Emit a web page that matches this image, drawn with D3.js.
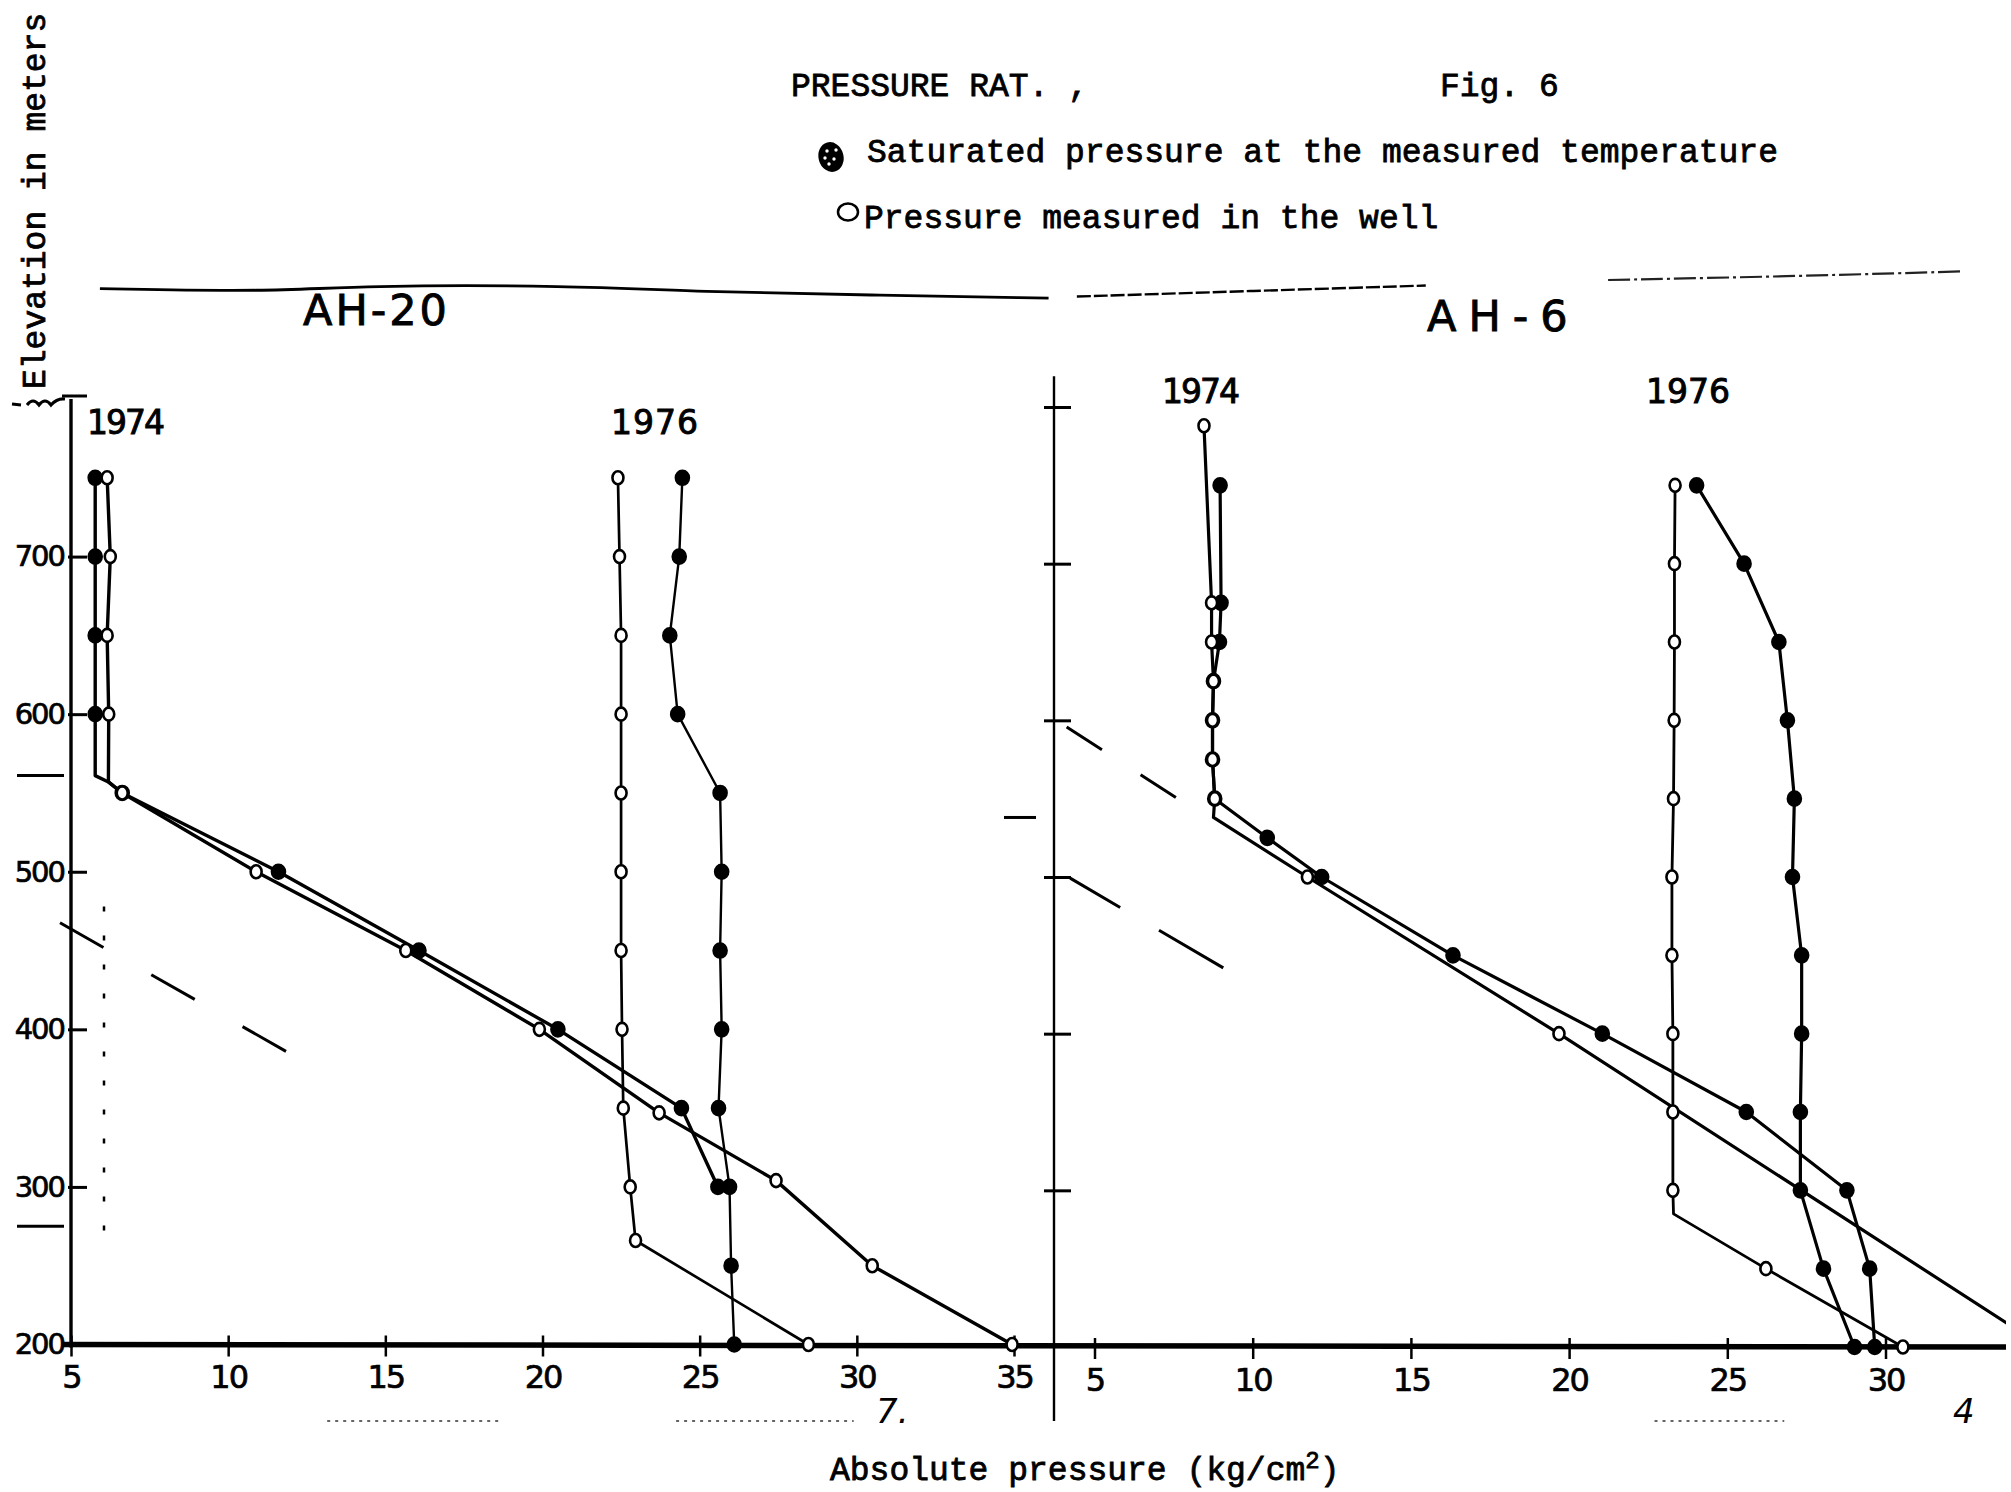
<!DOCTYPE html>
<html>
<head>
<meta charset="utf-8">
<script src="https://cdn.jsdelivr.net/npm/d3@7"></script>
<style>
  body { margin: 0; background: #fff; }
  svg { display: block; }
</style>
</head>
<body>
<script>
var w = 2011;
var h = 1492;

// values: [pressure kg/cm2, elevation m]
// AH-20
var ah20_74_sat  = [[5.77,750],[5.77,700],[5.77,650],[5.77,600],[5.77,561],[6.19,557],[6.63,550],[11.6,500],[16.07,450],[20.49,400],[24.42,350],[25.58,300]];
var ah20_74_meas = [[6.15,750],[6.25,700],[6.15,650],[6.2,600],[6.19,557],[6.63,550],[10.89,500],[15.65,450],[19.9,400],[23.71,347],[27.43,304],[30.49,250],[34.94,200]];
var ah20_76_sat  = [[24.45,750],[24.35,700],[24.05,650],[24.3,600],[25.65,550],[25.7,500],[25.65,450],[25.7,400],[25.6,350],[25.95,300],[26.0,250],[26.1,200]];
var ah20_76_meas = [[22.4,750],[22.45,700],[22.5,650],[22.5,600],[22.5,550],[22.5,500],[22.5,450],[22.53,400],[22.57,350],[22.79,300],[22.96,266],[28.46,200]];
// AH-6
var ah6_74_sat  = [[8.97,750],[9.0,675],[8.95,650],[8.76,625],[8.73,600],[8.73,575],[8.8,550],[10.46,525],[12.18,500],[16.33,450],[21.05,400],[25.6,350],[28.78,300],[29.5,250],[29.66,200]];
var ah6_74_meas = [[8.46,788],[8.7,675],[8.7,650],[8.76,625],[8.73,600],[8.73,575],[8.8,550],[8.76,538],[11.73,500],[19.68,400],[35.0,200]];
var ah6_76_sat  = [[24.03,750],[25.53,700],[26.63,650],[26.9,600],[27.12,550],[27.06,500],[27.35,450],[27.35,400],[27.31,350],[27.31,300],[28.04,250],[29.02,200]];
var ah6_76_meas = [[23.35,750],[23.33,700],[23.33,650],[23.32,600],[23.3,550],[23.25,500],[23.25,450],[23.28,400],[23.28,350],[23.28,300],[23.3,285],[26.22,250],[30.55,200]];

// elevations where a line only bends (no point plotted)
var ah20_74_sat_bends = [561, 557];
var ah20_74_meas_bends = [557];
var ah6_74_meas_bends = [538, 200];
var ah6_76_meas_bends = [285];

// ticks
var elevTicksL = [300, 400, 500, 600, 700];
var elevTicksR = [300, 400, 500, 600, 700, 800];
var pressTicksL = [5, 10, 15, 20, 25, 30, 35];
var pressTicksR = [5, 10, 15, 20, 25, 30];

// pencil marks on the sheet
var casingL = [561, 275];
var casingR = [538];
var guideL  = [[4.65,467.6],[11.95,384.8]];
var guideV  = [[6.05,478],[6.05,268]];
var guideRA = [[4.12,595.8],[7.83,547.4]];
var guideRB = [[4.23,499.3],[9.07,442]];
var rule1 = [[5.92,870],[11.3,868],[14.2,872],[20.9,872],[25.0,868],[30.4,866],[36.1,864]];
var rule2 = [[37.0,865],[42.5,868.5],[48.1,872]];
var rule3 = [[53.9,875.5],[60.0,878],[65.2,881]];
var foot1 = [[13.15,151.5],[18.6,151.5]];
var foot2 = [[24.25,151.5],[29.9,151.5]];
var foot3 = [[22.7,152.8],[26.8,152.8]];

var svg = d3.select("body")
            .append("svg")
              .attr("width", w)
              .attr("height", h);

svg.append("defs").append("clipPath").attr("id", "page")
  .append("rect").attr("x", 0).attr("y", 0).attr("width", 2006).attr("height", h);

var root = svg.append("g").attr("clip-path", "url(#page)");

//scales, one pair per panel
var xL = d3.scaleLinear().domain([5, 35]).range([71, 1014]);
var yL = d3.scaleLinear().domain([200, 800]).range([1344.5, 399]);
var xR = d3.scaleLinear().domain([5, 30]).range([1094.5, 1885.5]);
var yR = d3.scaleLinear().domain([200, 800]).range([1347, 407]);
var axR = 1054;

var mono = "'Liberation Mono', 'DejaVu Sans Mono', monospace";
var sans = "'DejaVu Sans', 'Liberation Sans', sans-serif";

function lineFor(x, y, curve) {
  var l = d3.line().x(function(d) { return x(d[0]); }).y(function(d) { return y(d[1]); });
  if (curve) l.curve(curve);
  return l;
}

// header text
function typed(txt, x, y) {
  return root.append("text").attr("x", x).attr("y", y)
    .style("font-family", mono).style("font-size", "33px")
    .attr("fill", "#000").attr("stroke", "#000").attr("stroke-width", 0.8)
    .text(txt);
}
typed("PRESSURE RAT. ,", 791, 96);
typed("Fig. 6", 1440, 96);
typed("Saturated pressure at the measured temperature", 867, 162);
typed("Pressure measured in the well", 864, 228);

// legend symbols
root.append("ellipse").attr("cx", 831).attr("cy", 157).attr("rx", 12.5).attr("ry", 15)
  .attr("transform", "rotate(-15,831,157)").attr("fill", "#000");
[[827,151],[834,159],[829,164],[836,150],[825,158]].forEach(function(p) {
  root.append("circle").attr("cx", p[0]).attr("cy", p[1]).attr("r", 1.7).attr("fill", "#fff");
});
root.append("ellipse").attr("cx", 848).attr("cy", 212).attr("rx", 10).attr("ry", 8.5)
  .attr("fill", "none").attr("stroke", "#000").attr("stroke-width", 2.5);

// y title
root.append("text")
  .attr("transform", "translate(45,389) rotate(-90)")
  .style("font-family", mono).style("font-size", "33px")
  .attr("fill", "#000").attr("stroke", "#000").attr("stroke-width", 0.8)
  .text("Elevation in meters");

// x title
var xt = root.append("text").attr("x", 830).attr("y", 1480)
  .style("font-family", mono).style("font-size", "33px")
  .attr("fill", "#000").attr("stroke", "#000").attr("stroke-width", 0.8);
xt.append("tspan").text("Absolute pressure (kg/cm");
xt.append("tspan").attr("dy", -12).style("font-size", "24px").text("2");
xt.append("tspan").attr("dy", 12).text(")");

// wavy rule under the header
var ruleLine = lineFor(xL, yL, d3.curveBasis);
root.append("path").attr("d", ruleLine(rule1)).attr("fill", "none").attr("stroke", "#000").attr("stroke-width", 2.8);
root.append("path").attr("d", ruleLine(rule2)).attr("fill", "none").attr("stroke", "#000").attr("stroke-width", 2.4).attr("stroke-dasharray", "14,3");
root.append("path").attr("d", ruleLine(rule3)).attr("fill", "none").attr("stroke", "#222").attr("stroke-width", 2.2).attr("stroke-dasharray", "22,4,3,4");

// well names and years
function lettered(txt, x, y, size, spacing) {
  return root.append("text").attr("x", x).attr("y", y)
    .style("font-family", sans).style("font-size", size + "px")
    .style("letter-spacing", spacing + "px")
    .attr("fill", "#000").attr("stroke", "#000").attr("stroke-width", 0.9)
    .text(txt);
}
lettered("AH-20", 303, 325, 43, 3);
lettered("AH-6", 1427, 331, 43, 12);
lettered("1974", 87, 434, 33, -2);
lettered("1976", 611, 434, 33, 1);
lettered("1974", 1162, 403, 33, -2);
lettered("1976", 1646, 403, 33, 0);

// page marks
root.append("text").attr("x", 876).attr("y", 1423).style("font-family", sans)
  .style("font-size", "34px").style("font-style", "italic").style("font-weight", "200").text("7.");
root.append("text").attr("x", 1953).attr("y", 1423).style("font-family", sans)
  .style("font-size", "34px").style("font-style", "italic").style("font-weight", "200").text("4");

// axes lines
root.append("line").attr("x1", xL(5)).attr("x2", xL(5)).attr("y1", yL(800)).attr("y2", yL(200) + 3)
  .attr("stroke", "#000").attr("stroke-width", 3.4);
root.append("line").attr("x1", xL(5) - 9).attr("x2", xL(5) + 16).attr("y1", yL(800) - 3).attr("y2", yL(800) - 3)
  .attr("stroke", "#000").attr("stroke-width", 3);
var ty = yL(800);
root.append("path")
  .attr("d", "M12," + (ty + 5) + " l9,1 M27," + (ty + 6) + " q6,-8 12,0 q6,-8 12,0 q6,-7 14,-6")
  .attr("fill", "none").attr("stroke", "#000").attr("stroke-width", 3);

root.append("line").attr("x1", axR).attr("x2", axR).attr("y1", yR(819.7)).attr("y2", yR(152.8))
  .attr("stroke", "#000").attr("stroke-width", 2.4);

root.append("line").attr("x1", xL(4.7)).attr("y1", yL(200)).attr("x2", w).attr("y2", yR(200))
  .attr("stroke", "#000").attr("stroke-width", 5.5);

// axes ticks and labels
function styleAxis(g, size, spacing) {
  g.select(".domain").remove();
  g.selectAll("line").attr("stroke", "#000").attr("stroke-width", 3);
  g.selectAll("text").style("font-family", sans).style("font-size", size + "px")
    .style("letter-spacing", spacing + "px")
    .attr("fill", "#000").attr("stroke", "#000").attr("stroke-width", 0.7);
}

root.append("g").attr("transform", "translate(" + xL(5) + ",0)")
  .call(d3.axisLeft(yL).tickValues(elevTicksL).tickSizeInner(-16).tickSizeOuter(0).tickPadding(7))
  .call(function(g) { styleAxis(g, 29, -2); g.selectAll("line").attr("x1", -3); });

root.append("text").attr("x", xL(5) - 7).attr("y", yL(200)).attr("dy", "0.32em")
  .attr("text-anchor", "end").style("font-family", sans).style("font-size", "29px")
  .style("letter-spacing", "-2px").attr("stroke", "#000").attr("stroke-width", 0.7).text("200");

root.append("g").attr("transform", "translate(" + axR + ",0)")
  .call(d3.axisLeft(yR).tickValues(elevTicksR).tickSizeInner(-17).tickSizeOuter(0).tickFormat(""))
  .call(function(g) { styleAxis(g, 29, 0); g.selectAll("line").attr("x1", -10); });

root.append("g").attr("transform", "translate(0," + yL(200) + ")")
  .call(d3.axisBottom(xL).tickValues(pressTicksL).tickSizeInner(12).tickSizeOuter(0).tickPadding(9))
  .call(function(g) { styleAxis(g, 32, -2); g.selectAll("line").attr("y1", -9).attr("stroke-width", 2.5); });

root.append("g").attr("transform", "translate(0," + yR(200) + ")")
  .call(d3.axisBottom(xR).tickValues(pressTicksR).tickSizeInner(12).tickSizeOuter(0).tickPadding(9))
  .call(function(g) { styleAxis(g, 32, -2); g.selectAll("line").attr("y1", -9).attr("stroke-width", 2.5); });

// casing marks beside the axes
root.selectAll(".casingL").data(casingL).enter().append("line")
  .attr("x1", xL(5) - 54).attr("x2", xL(5) - 7)
  .attr("y1", function(d) { return yL(d); }).attr("y2", function(d) { return yL(d); })
  .attr("stroke", "#000").attr("stroke-width", 3);
root.selectAll(".casingR").data(casingR).enter().append("line")
  .attr("x1", axR - 50).attr("x2", axR - 18)
  .attr("y1", function(d) { return yR(d); }).attr("y2", function(d) { return yR(d); })
  .attr("stroke", "#000").attr("stroke-width", 3);

// pencil guides
var lineL = lineFor(xL, yL);
var lineR = lineFor(xR, yR);
root.append("path").attr("d", lineL(guideL)).attr("stroke", "#000").attr("stroke-width", 3).attr("stroke-dasharray", "50,55");
root.append("path").attr("d", lineL(guideV)).attr("stroke", "#000").attr("stroke-width", 2.5).attr("stroke-dasharray", "5,24");
root.append("path").attr("d", lineR(guideRA)).attr("stroke", "#000").attr("stroke-width", 3).attr("stroke-dasharray", "42,46");
root.append("path").attr("d", lineR(guideRB)).attr("stroke", "#000").attr("stroke-width", 3).attr("stroke-dasharray", "58,45,75");
[foot1, foot2].forEach(function(f) {
  root.append("path").attr("d", lineL(f)).attr("stroke", "#333").attr("stroke-width", 1.6).attr("stroke-dasharray", "3,5");
});
root.append("path").attr("d", lineR(foot3)).attr("stroke", "#333").attr("stroke-width", 1.6).attr("stroke-dasharray", "3,5");

// series
var series = [
  { pts: ah20_74_sat,  bends: ah20_74_sat_bends,  filled: true,  width: 3.4, x: xL, y: yL },
  { pts: ah20_74_meas, bends: ah20_74_meas_bends, filled: false, width: 3.4, x: xL, y: yL },
  { pts: ah20_76_sat,  bends: [],                 filled: true,  width: 2.4, x: xL, y: yL },
  { pts: ah20_76_meas, bends: [],                 filled: false, width: 2.7, x: xL, y: yL },
  { pts: ah6_74_sat,   bends: [],                 filled: true,  width: 3.2, x: xR, y: yR },
  { pts: ah6_74_meas,  bends: ah6_74_meas_bends,  filled: false, width: 3.2, x: xR, y: yR },
  { pts: ah6_76_sat,   bends: [],                 filled: true,  width: 3.2, x: xR, y: yR },
  { pts: ah6_76_meas,  bends: ah6_76_meas_bends,  filled: false, width: 2.8, x: xR, y: yR }
];

series.forEach(function(s) {
  root.append("path")
    .attr("d", lineFor(s.x, s.y)(s.pts))
    .attr("fill", "none")
    .attr("stroke", "#000")
    .attr("stroke-width", s.width)
    .attr("stroke-linejoin", "round");
});

series.forEach(function(s) {
  root.selectAll(null)
    .data(s.pts.filter(function(d) { return s.bends.indexOf(d[1]) < 0; }))
    .enter()
    .append("ellipse")
    .attr("cx", function(d) { return s.x(d[0]); })
    .attr("cy", function(d) { return s.y(d[1]); })
    .attr("rx", s.filled ? 6.5 : 5.5)
    .attr("ry", s.filled ? 7 : 6.5)
    .attr("fill", s.filled ? "#000" : "#fff")
    .attr("stroke", "#000")
    .attr("stroke-width", 2.6);
});
</script>
</body>
</html>
